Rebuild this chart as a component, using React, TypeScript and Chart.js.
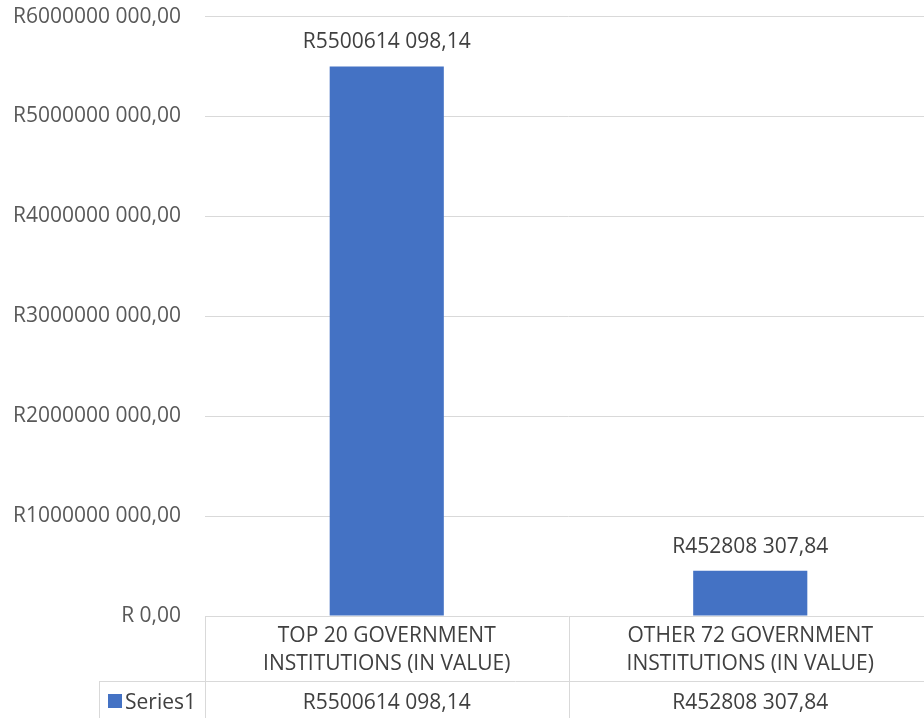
import React, { useEffect, useRef } from "react";
import { Chart, registerables } from "chart.js";

Chart.register(...registerables);

const categoryLines: string[][] = [
  ["TOP 20 GOVERNMENT", "INSTITUTIONS (IN VALUE)"],
  ["OTHER 72 GOVERNMENT", "INSTITUTIONS (IN VALUE)"],
];
const seriesName = "Series1";
const seriesValues: number[] = [5500614098.14, 452808307.84];
const valueLabels: string[] = ["R5500614 098,14", "R452808 307,84"];
const yTickValues: number[] = [0, 1e9, 2e9, 3e9, 4e9, 5e9, 6e9];
const yTickLabels: string[] = [
  "R 0,00",
  "R1000000 000,00",
  "R2000000 000,00",
  "R3000000 000,00",
  "R4000000 000,00",
  "R5000000 000,00",
  "R6000000 000,00",
];

const FONT = "'Open Sans', sans-serif";
const FONT_SIZE = 21;
const BAR_COLOR = "#4472C4";
const GRID = "#d9d9d9";
const TEXT = "#404040";
const SHIFT_Y = 20;

export default function App() {
  const ref = useRef<HTMLCanvasElement | null>(null);
  useEffect(() => {
    document.body.style.margin = "0";
    const canvas = ref.current!;
    const tablePlugin = {
      id: "tablePlugin",
      afterDraw(chart: any) {
        const ctx = chart.ctx as CanvasRenderingContext2D;
        const area = chart.chartArea;
        const x = chart.scales.x;
        const H = chart.height;
        const rowY = area.bottom + 65;
        ctx.save();
        // value labels
        ctx.font = `${FONT_SIZE}px ${FONT}`;
        ctx.fillStyle = TEXT;
        ctx.textAlign = "center";
        ctx.textBaseline = "alphabetic";
        const meta = chart.getDatasetMeta(0);
        meta.data.forEach((bar: any, i: number) => {
          ctx.fillText(valueLabels[i], bar.x, bar.y - 18);
        });
        // table lines
        ctx.strokeStyle = GRID;
        ctx.lineWidth = 1;
        const line = (x1: number, y1: number, x2: number, y2: number) => {
          ctx.beginPath();
          ctx.moveTo(x1, y1);
          ctx.lineTo(x2, y2);
          ctx.stroke();
        };
        const left = area.left;
        const right = area.right;
        const n = categoryLines.length;
        const colW = (right - left) / n;
        line(Math.round(left) + 0.5, area.bottom, Math.round(left) + 0.5, H);
        for (let i = 1; i <= n; i++) {
          const cx = Math.round(left + colW * i) + 0.5;
          line(cx, area.bottom, cx, H);
        }
        line(99, Math.round(rowY) + 0.5, right, Math.round(rowY) + 0.5);
        line(99.5, rowY, 99.5, H);
        // header text
        ctx.fillStyle = TEXT;
        ctx.textBaseline = "middle";
        categoryLines.forEach((lines, i) => {
          const cx = x.getPixelForValue(i);
          lines.forEach((t, j) => {
            ctx.fillText(t, cx, area.bottom + 20 + j * 28);
          });
          ctx.fillText(valueLabels[i], cx, rowY + 22);
        });
        // legend key
        ctx.fillStyle = BAR_COLOR;
        ctx.fillRect(108, rowY + 13, 14, 14);
        ctx.fillStyle = TEXT;
        ctx.textAlign = "left";
        ctx.fillText(seriesName, 125, rowY + 22);
        ctx.restore();
      },
    };
    const chart = new Chart(canvas, {
      type: "bar",
      data: {
        labels: categoryLines.map((l) => l.join(" ")),
        datasets: [
          {
            label: seriesName,
            data: seriesValues,
            backgroundColor: BAR_COLOR,
            barPercentage: 1,
            categoryPercentage: 0.314,
          },
        ],
      },
      options: {
        responsive: false,
        animation: false,
        devicePixelRatio: 1,
        layout: { padding: { top: 0, bottom: 102, right: 0, left: 0 } },
        plugins: { legend: { display: false }, tooltip: { enabled: false } },
        scales: {
          x: { display: false },
          y: {
            min: 0,
            max: 6e9,
            afterBuildTicks(axis: any) {
              axis.ticks = yTickValues.map((v) => ({ value: v }));
            },
            afterFit(axis: any) {
              axis.width = 205;
            },
            grid: { color: GRID, drawTicks: false, lineWidth: 1 },
            border: { display: false },
            ticks: {
              padding: 24,
              color: "#595959",
              font: { family: FONT, size: FONT_SIZE },
              callback: (v: any) => {
                const idx = yTickValues.indexOf(Number(v));
                return idx >= 0 ? yTickLabels[idx] : "";
              },
            },
          },
        },
      },
      plugins: [tablePlugin],
    });
    return () => chart.destroy();
  }, []);
  return (
    <div style={{ width: 924, height: 718, overflow: "hidden", position: "relative" }}>
      <canvas
        ref={ref}
        width={932}
        height={718 + SHIFT_Y}
        style={{ display: "block", position: "absolute", left: 0, top: -SHIFT_Y }}
      />
    </div>
  );
}
